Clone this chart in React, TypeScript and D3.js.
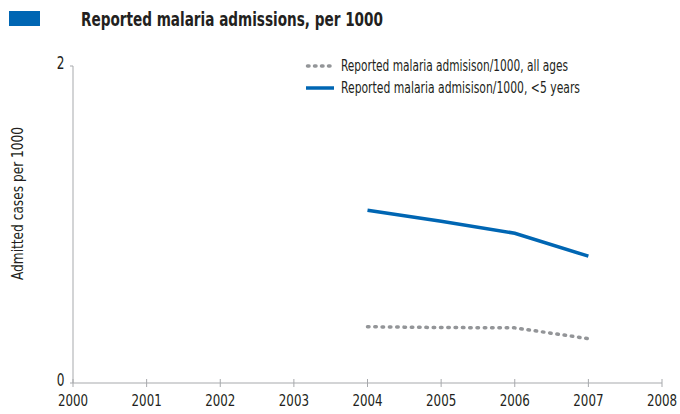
import { useRef, useEffect } from 'react'
import * as d3 from 'd3'

const years = [2004, 2005, 2006, 2007]
const allAges = [0.355, 0.35, 0.348, 0.28]
const underFive = [1.09, 1.02, 0.945, 0.8]
const xTicks = [2000, 2001, 2002, 2003, 2004, 2005, 2006, 2007, 2008]
const yTicks = [0, 2]

const W = 680
const H = 414
const font = '"DejaVu Sans Condensed", "Liberation Sans Narrow", sans-serif'
const ink = '#231f20'

const App = () => {
  const svgRef = useRef<SVGSVGElement>(null)

  useEffect(() => {
    const svg = d3.select(svgRef.current)
    svg.selectAll('*').remove()

    const x = d3.scaleLinear().domain([2000, 2008]).range([73, 662])
    const y = d3.scaleLinear().domain([0, 2]).range([383, 66])

    // title block
    svg.append('rect').attr('x', 9).attr('y', 11).attr('width', 31).attr('height', 15).attr('fill', '#0066b3')
    svg.append('text')
      .attr('x', 81).attr('y', 26)
      .attr('font-family', font).attr('font-weight', 'bold').attr('font-size', 19)
      .attr('textLength', 302).attr('lengthAdjust', 'spacingAndGlyphs')
      .attr('fill', ink)
      .text('Reported malaria admissions, per 1000')

    // axes
    const axisColor = '#a7a9ac'
    svg.append('line').attr('x1', x(2000)).attr('x2', x(2000)).attr('y1', y(2)).attr('y2', y(0)).attr('stroke', axisColor)
    svg.append('line').attr('x1', x(2000)).attr('x2', x(2008)).attr('y1', y(0)).attr('y2', y(0)).attr('stroke', axisColor)

    svg.append('g').selectAll('line').data(xTicks).join('line')
      .attr('x1', d => x(d)).attr('x2', d => x(d))
      .attr('y1', y(0) - 4).attr('y2', y(0) + 4)
      .attr('stroke', axisColor)
    // condensed tick labels: squeeze horizontally with a transform
    svg.append('g').selectAll('text').data(xTicks).join('text')
      .attr('transform', d => `translate(${Math.min(x(d), W - 18)}, 406) scale(0.8, 1)`)
      .attr('text-anchor', 'middle')
      .attr('font-family', font).attr('font-size', 16.5).attr('fill', ink)
      .text(d => d)

    svg.append('g').selectAll('line').data(yTicks).join('line')
      .attr('x1', x(2000) - 3).attr('x2', x(2000))
      .attr('y1', d => y(d)).attr('y2', d => y(d))
      .attr('stroke', axisColor)
    svg.append('g').selectAll('text').data(yTicks).join('text')
      .attr('transform', d => `translate(64.5, ${y(d) + 3}) scale(0.75, 1)`)
      .attr('text-anchor', 'end')
      .attr('font-family', font).attr('font-size', 18).attr('fill', ink)
      .text(d => d)

    svg.append('text')
      .attr('transform', 'translate(23, 280) rotate(-90)')
      .attr('font-family', font).attr('font-size', 15).attr('fill', ink)
      .attr('textLength', 153).attr('lengthAdjust', 'spacingAndGlyphs')
      .text('Admitted cases per 1000')

    // lines
    const line = d3.line<number>().x((_, i) => x(years[i])).y(d => y(d))
    svg.append('path').datum(allAges).attr('d', line)
      .attr('fill', 'none').attr('stroke', '#939598').attr('stroke-width', 3.5)
      .attr('stroke-linecap', 'round').attr('stroke-dasharray', '1.5 5.8')
    svg.append('path').datum(underFive).attr('d', line)
      .attr('fill', 'none').attr('stroke', '#0066b3').attr('stroke-width', 3.5)

    // legend
    const legend = [
      { label: 'Reported malaria admisison/1000, all ages', color: '#939598', dash: '1.5 5.5', width: 3.5, len: 227 },
      { label: 'Reported malaria admisison/1000, <5 years', color: '#0066b3', dash: null, width: 3.5, len: 239 },
    ]
    const lg = svg.append('g').selectAll('g').data(legend).join('g')
      .attr('transform', (_, i) => `translate(306, ${66 + i * 22})`)
    lg.append('line').attr('x1', d => d.dash ? 1.5 : 0).attr('x2', 28).attr('y1', 0).attr('y2', 0)
      .attr('stroke', d => d.color).attr('stroke-width', d => d.width)
      .attr('stroke-linecap', d => d.dash ? 'round' : 'butt')
      .attr('stroke-dasharray', d => d.dash)
    lg.append('text').attr('x', 35).attr('y', 5)
      .attr('font-family', font).attr('font-size', 15).attr('fill', ink)
      .attr('textLength', d => d.len).attr('lengthAdjust', 'spacingAndGlyphs')
      .text(d => d.label)
  }, [])

  return (
    <svg ref={svgRef} width={W} height={H}
      style={{ position: 'absolute', left: 0, top: 0, background: '#fff' }} />
  )
}

export default App
